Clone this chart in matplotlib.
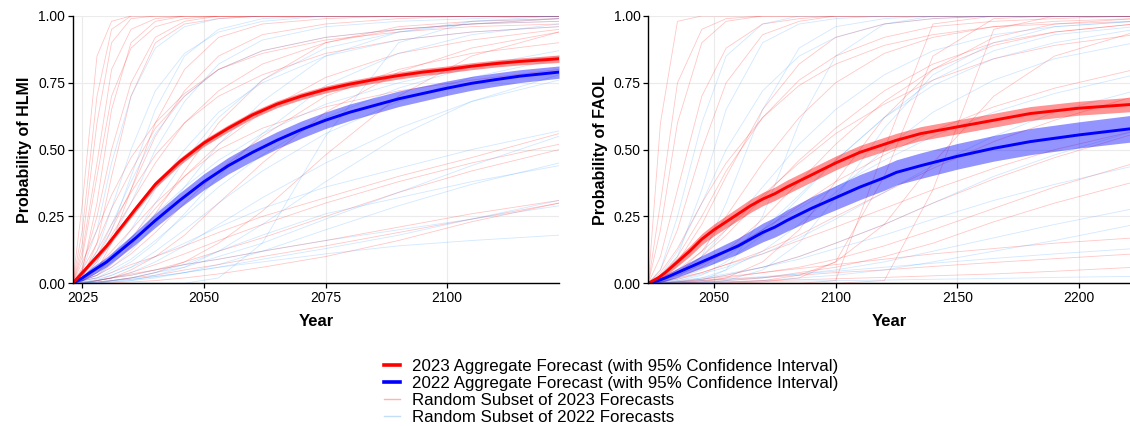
import matplotlib
matplotlib.use("Agg")
import matplotlib.pyplot as plt
from matplotlib.lines import Line2D

plt.rcParams['font.family'] = ['Liberation Sans', 'DejaVu Sans']

# ---- HLMI panel data ----
hlmi_years = [2023, 2025, 2028, 2031, 2035, 2040, 2046, 2053, 2062, 2075, 2090, 2105, 2123]

hlmi_agg_years = [2023, 2025, 2027, 2030, 2033, 2036, 2040, 2045, 2050, 2055, 2060, 2065,
                  2070, 2075, 2080, 2085, 2090, 2095, 2100, 2105, 2110, 2115, 2123]
hlmi_2023 = [0.0, 0.04, 0.08, 0.14, 0.21, 0.28, 0.37, 0.455, 0.525, 0.58, 0.63, 0.67,
             0.70, 0.725, 0.745, 0.762, 0.777, 0.79, 0.80, 0.812, 0.822, 0.83, 0.84]
hlmi_2023_lo = [0.0, 0.032, 0.071, 0.13, 0.199, 0.268, 0.357, 0.442, 0.512, 0.567, 0.617, 0.657,
                0.687, 0.712, 0.732, 0.749, 0.764, 0.777, 0.787, 0.799, 0.809, 0.817, 0.826]
hlmi_2023_hi = [0.0, 0.048, 0.089, 0.15, 0.221, 0.292, 0.383, 0.468, 0.538, 0.593, 0.643, 0.683,
                0.713, 0.738, 0.758, 0.775, 0.79, 0.803, 0.813, 0.825, 0.835, 0.843, 0.854]
hlmi_2022 = [0.0, 0.02, 0.045, 0.08, 0.125, 0.17, 0.235, 0.31, 0.38, 0.44, 0.49, 0.535,
             0.575, 0.61, 0.64, 0.665, 0.69, 0.71, 0.73, 0.748, 0.762, 0.775, 0.79]
hlmi_2022_lo = [0.0, 0.01, 0.03, 0.062, 0.104, 0.147, 0.209, 0.282, 0.35, 0.409, 0.458, 0.503,
                0.543, 0.579, 0.609, 0.635, 0.661, 0.682, 0.703, 0.722, 0.737, 0.751, 0.767]
hlmi_2022_hi = [0.0, 0.03, 0.06, 0.098, 0.146, 0.193, 0.261, 0.338, 0.41, 0.471, 0.522, 0.567,
                0.607, 0.641, 0.671, 0.695, 0.719, 0.738, 0.757, 0.774, 0.787, 0.799, 0.813]

hlmi_sub_2023 = [
    [0, .30, .85, .98, 1, 1, 1, 1, 1, 1, 1, 1, 1],
    [0, .15, .60, .90, .99, 1, 1, 1, 1, 1, 1, 1, 1],
    [0, .05, .30, .65, .90, .98, 1, 1, 1, 1, 1, 1, 1],
    [0, .02, .15, .40, .70, .90, .97, .99, 1, 1, 1, 1, 1],
    [0, .01, .05, .15, .35, .60, .80, .92, .97, .99, 1, 1, 1],
    [0, .02, .08, .18, .30, .45, .60, .72, .82, .90, .95, .97, .99],
    [0, .01, .04, .09, .17, .28, .40, .52, .64, .77, .86, .91, .95],
    [0, 0, .01, .02, .04, .07, .11, .16, .22, .30, .38, .45, .52],
    [0, .005, .01, .02, .035, .05, .07, .09, .12, .16, .21, .26, .31],
    [0, 0, 0, .002, .005, .01, .02, .035, .06, .10, .16, .23, .30],
    [0, .10, .40, .70, .88, .96, .99, 1, 1, 1, 1, 1, 1],
    [0, .03, .10, .20, .35, .55, .72, .85, .93, .97, .99, 1, 1],
    [0, .01, .03, .06, .11, .19, .30, .42, .55, .70, .80, .86, .90],
    [0, .04, .12, .22, .34, .48, .60, .70, .78, .86, .91, .94, .96],
    [0, 0, .01, .02, .05, .10, .18, .30, .45, .64, .79, .88, .94],
    [0, .02, .06, .12, .20, .30, .40, .50, .58, .66, .72, .76, .80],
    [0, .01, .02, .04, .07, .10, .14, .19, .25, .32, .40, .47, .56],
    [0, 0, 0, .01, .02, .04, .08, .15, .27, .48, .70, .85, .94],
    [0, .20, .70, .95, 1, 1, 1, 1, 1, 1, 1, 1, 1],
    [0, .06, .25, .50, .75, .92, .98, 1, 1, 1, 1, 1, 1],
    [0, .01, .03, .07, .14, .26, .42, .60, .76, .90, .96, .98, .99],
    [0, .003, .01, .02, .03, .05, .08, .12, .17, .25, .34, .42, .50],
    [0, .05, .15, .28, .42, .58, .70, .80, .87, .92, .95, .97, .98],
    [0, 0, .005, .01, .02, .03, .05, .07, .10, .14, .19, .24, .30],
    [0, .08, .20, .33, .47, .60, .71, .80, .86, .91, .94, .96, .97],
    [0, .12, .45, .80, .95, .99, 1, 1, 1, 1, 1, 1, 1],
]

hlmi_sub_2022 = [
    [0, .02, .08, .20, .40, .65, .85, .95, .99, 1, 1, 1, 1],
    [0, .01, .03, .06, .12, .22, .36, .52, .68, .85, .94, .98, .99],
    [0, 0, .01, .02, .04, .08, .14, .22, .32, .45, .58, .68, .76],
    [0, 0, .005, .01, .02, .04, .06, .10, .15, .24, .34, .44, .55],
    [0, .005, .01, .02, .03, .05, .07, .09, .12, .16, .20, .24, .29],
    [0, 0, 0, 0, 0, 0, 0, .02, .15, .55, .90, .98, 1],
    [0, .01, .04, .10, .20, .35, .50, .64, .75, .85, .91, .94, .96],
    [0, .03, .10, .22, .38, .56, .70, .80, .87, .92, .95, .97, .98],
    [0, 0, .01, .03, .06, .12, .20, .30, .42, .56, .68, .77, .84],
    [0, .002, .005, .01, .015, .025, .04, .06, .08, .11, .14, .16, .18],
    [0, .01, .02, .05, .09, .16, .25, .36, .48, .62, .73, .81, .87],
    [0, .05, .20, .45, .70, .88, .96, .99, 1, 1, 1, 1, 1],
    [0, 0, .002, .005, .01, .02, .04, .07, .12, .20, .29, .37, .45],
    [0, .01, .03, .08, .16, .30, .46, .62, .76, .88, .94, .97, .99],
    [0, .02, .05, .10, .17, .26, .36, .46, .56, .67, .75, .81, .85],
    [0, 0, 0, .005, .01, .03, .06, .12, .22, .38, .55, .68, .78],
    [0, .005, .015, .03, .06, .10, .15, .21, .28, .36, .43, .50, .57],
    [0, .03, .12, .28, .50, .72, .86, .94, .98, 1, 1, 1, 1],
    [0, 0, .005, .01, .02, .04, .07, .12, .18, .26, .32, .38, .44],
    [0, .01, .02, .04, .08, .15, .26, .40, .56, .74, .86, .93, .97],
    [0, 0, .003, .008, .015, .025, .04, .06, .09, .13, .18, .24, .31],
    [0, .02, .07, .16, .30, .50, .68, .82, .91, .96, .98, .99, 1],
]

# ---- FAOL panel data ----
faol_years = [2023, 2028, 2035, 2045, 2055, 2070, 2085, 2100, 2120, 2140, 2165, 2190, 2223]

faol_agg_years = [2023, 2027, 2030, 2035, 2040, 2045, 2050, 2055, 2060, 2065, 2070, 2075,
                  2080, 2090, 2100, 2110, 2120, 2125, 2135, 2150, 2165, 2180, 2200, 2223]
faol_2023 = [0.0, 0.02, 0.04, 0.08, 0.12, 0.165, 0.20, 0.23, 0.26, 0.29, 0.315, 0.335,
             0.36, 0.405, 0.45, 0.49, 0.52, 0.535, 0.56, 0.585, 0.61, 0.635, 0.655, 0.67]
faol_2023_lo = [0.0, 0.012, 0.028, 0.064, 0.101, 0.144, 0.178, 0.207, 0.236, 0.265, 0.29, 0.31,
                0.334, 0.379, 0.424, 0.464, 0.494, 0.509, 0.534, 0.559, 0.584, 0.609, 0.629, 0.643]
faol_2023_hi = [0.0, 0.028, 0.052, 0.096, 0.139, 0.186, 0.222, 0.253, 0.284, 0.315, 0.34, 0.36,
                0.386, 0.431, 0.476, 0.516, 0.546, 0.561, 0.586, 0.611, 0.636, 0.661, 0.681, 0.697]
faol_2022 = [0.0, 0.01, 0.02, 0.04, 0.06, 0.08, 0.10, 0.12, 0.14, 0.165, 0.19, 0.21,
             0.235, 0.28, 0.32, 0.36, 0.395, 0.415, 0.44, 0.475, 0.505, 0.53, 0.555, 0.58]
faol_2022_lo = [0.0, 0.002, 0.008, 0.024, 0.04, 0.057, 0.074, 0.092, 0.11, 0.133, 0.155, 0.173,
                0.195, 0.237, 0.275, 0.313, 0.348, 0.368, 0.392, 0.427, 0.457, 0.481, 0.506, 0.53]
faol_2022_hi = [0.0, 0.018, 0.032, 0.056, 0.08, 0.103, 0.126, 0.148, 0.17, 0.197, 0.225, 0.247,
                0.275, 0.323, 0.365, 0.407, 0.442, 0.462, 0.488, 0.523, 0.553, 0.579, 0.604, 0.63]

faol_sub_2023 = [
    [0, .60, .98, 1, 1, 1, 1, 1, 1, 1, 1, 1, 1],
    [0, .20, .60, .90, .98, 1, 1, 1, 1, 1, 1, 1, 1],
    [0, .05, .20, .50, .75, .93, .98, 1, 1, 1, 1, 1, 1],
    [0, .02, .08, .22, .40, .65, .82, .92, .97, .99, 1, 1, 1],
    [0, .01, .04, .10, .18, .32, .46, .58, .72, .82, .90, .94, .97],
    [0, .005, .015, .04, .07, .12, .18, .25, .34, .43, .53, .61, .70],
    [0, 0, .005, .01, .02, .04, .06, .09, .14, .20, .28, .36, .45],
    [0, 0, 0, 0, 0, 0, 0, 0, .01, .35, .95, 1, 1],
    [0, 0, 0, 0, 0, 0, 0, .01, .50, .97, 1, 1, 1],
    [0, .003, .008, .015, .025, .04, .055, .07, .09, .11, .13, .15, .17],
    [0, 0, .002, .004, .006, .01, .013, .017, .022, .028, .035, .045, .06],
    [0, .10, .35, .70, .88, .97, .99, 1, 1, 1, 1, 1, 1],
    [0, .03, .10, .25, .42, .62, .76, .85, .92, .96, .98, .99, 1],
    [0, .02, .05, .12, .20, .33, .45, .56, .67, .76, .84, .89, .93],
    [0, .01, .03, .07, .12, .20, .29, .38, .48, .57, .66, .73, .80],
    [0, 0, 0, .005, .02, .08, .20, .38, .62, .80, .92, .97, .99],
    [0, 0, .005, .015, .03, .06, .10, .15, .22, .30, .39, .47, .56],
    [0, .005, .02, .06, .12, .24, .38, .52, .68, .80, .89, .94, .97],
    [0, 0, .002, .005, .01, .02, .04, .06, .10, .15, .23, .30, .38],
    [0, .04, .13, .30, .45, .62, .74, .82, .89, .93, .96, .97, .98],
    [0, .30, .75, .95, .99, 1, 1, 1, 1, 1, 1, 1, 1],
    [0, 0, 0, 0, .002, .01, .03, .08, .22, .45, .70, .85, .94],
    [0, .008, .02, .04, .07, .11, .16, .21, .28, .35, .43, .50, .57],
    [0, 0, 0, 0, 0, .005, .02, .08, .40, .85, .99, 1, 1],
    [0, .002, .005, .01, .015, .022, .03, .04, .05, .063, .078, .092, .11],
    [0, .01, .04, .12, .25, .45, .62, .75, .86, .92, .96, .98, .99],
]

faol_sub_2022 = [
    [0, .02, .10, .35, .65, .90, .97, .99, 1, 1, 1, 1, 1],
    [0, 0, .02, .10, .30, .65, .88, .96, .99, 1, 1, 1, 1],
    [0, .005, .02, .05, .10, .20, .33, .46, .62, .74, .84, .90, .95],
    [0, 0, .005, .015, .03, .06, .10, .15, .22, .30, .40, .48, .57],
    [0, .002, .005, .01, .016, .025, .035, .045, .06, .075, .093, .11, .13],
    [0, 0, 0, .01, .05, .25, .60, .85, .97, 1, 1, 1, 1],
    [0, .01, .04, .10, .20, .36, .52, .65, .78, .87, .93, .96, .98],
    [0, 0, .002, .005, .01, .02, .035, .05, .08, .12, .17, .22, .28],
    [0, .005, .015, .035, .06, .11, .17, .24, .34, .44, .55, .64, .72],
    [0, .03, .12, .30, .50, .72, .85, .92, .97, .99, 1, 1, 1],
    [0, 0, 0, .002, .005, .01, .02, .03, .05, .08, .12, .16, .22],
    [0, .001, .002, .003, .004, .006, .008, .01, .012, .015, .018, .022, .026],
    [0, 0, .01, .03, .08, .18, .32, .46, .62, .76, .87, .93, .96],
    [0, .01, .03, .07, .12, .20, .28, .36, .46, .55, .64, .71, .78],
    [0, 0, 0, 0, .01, .05, .15, .32, .58, .78, .90, .96, .98],
    [0, .005, .01, .02, .035, .06, .09, .13, .18, .24, .31, .37, .44],
    [0, .05, .25, .60, .85, .97, 1, 1, 1, 1, 1, 1, 1],
    [0, 0, .005, .02, .05, .12, .22, .34, .50, .64, .76, .84, .90],
]

RED = '#FF0000'
BLUE = '#0000FF'
SUB_RED = '#FF0000'
SUB_BLUE = '#1E90FF'


def draw_panel(ax, years, sub23, sub22, agg_years, a23, lo23, hi23, a22, lo22, hi22,
               xlim, xticks, ylabel):
    for v in [0, 0.25, 0.5, 0.75, 1.0]:
        ax.axhline(v, color='#EBEBEB', lw=0.8, zorder=0)
    for t in xticks:
        ax.axvline(t, color='#EBEBEB', lw=0.8, zorder=0)
    for s in sub23:
        ax.plot(years, s, color=SUB_RED, alpha=0.22, lw=0.6, zorder=1)
    for s in sub22:
        ax.plot(years, s, color=SUB_BLUE, alpha=0.2, lw=0.6, zorder=1)
    ax.fill_between(agg_years, lo22, hi22, color=BLUE, alpha=0.42, lw=0, zorder=2)
    ax.fill_between(agg_years, lo23, hi23, color=RED, alpha=0.42, lw=0, zorder=2)
    ax.plot(agg_years, a22, color=BLUE, lw=2.1, zorder=3)
    ax.plot(agg_years, a23, color=RED, lw=2.1, zorder=3)
    ax.set_xlim(*xlim)
    ax.set_ylim(0, 1)
    ax.set_xticks(xticks)
    ax.set_yticks([0, 0.25, 0.5, 0.75, 1.0])
    ax.set_yticklabels(['0.00', '0.25', '0.50', '0.75', '1.00'])
    for side in ['top', 'right']:
        ax.spines[side].set_visible(False)
    for side in ['left', 'bottom']:
        ax.spines[side].set_linewidth(1.0)
        ax.spines[side].set_color('black')
        ax.spines[side].set_zorder(5)
    ax.tick_params(direction='out', length=3.5, width=0.9, colors='black',
                   labelsize=10, pad=2)
    ax.set_xlabel('Year', fontsize=12, fontweight='bold', labelpad=6.5)
    ax.set_ylabel(ylabel, fontsize=11.5, fontweight='bold', labelpad=4)


fig = plt.figure(figsize=(11.3, 4.26), dpi=100)
ax1 = fig.add_axes([0.0643, 0.335, 0.4304, 0.6275])
ax2 = fig.add_axes([0.5737, 0.335, 0.4263, 0.6275])

draw_panel(ax1, hlmi_years, hlmi_sub_2023, hlmi_sub_2022, hlmi_agg_years,
           hlmi_2023, hlmi_2023_lo, hlmi_2023_hi, hlmi_2022, hlmi_2022_lo, hlmi_2022_hi,
           (2023, 2123), [2025, 2050, 2075, 2100], 'Probability of HLMI')
draw_panel(ax2, faol_years, faol_sub_2023, faol_sub_2022, faol_agg_years,
           faol_2023, faol_2023_lo, faol_2023_hi, faol_2022, faol_2022_lo, faol_2022_hi,
           (2023, 2221), [2050, 2100, 2150, 2200], 'Probability of FAOL')

handles = [
    Line2D([], [], color=RED, lw=2.6),
    Line2D([], [], color=BLUE, lw=2.6),
    Line2D([], [], color='#FFB4B4', lw=1.0),
    Line2D([], [], color='#C4DEF8', lw=1.0),
]
labels = [
    '2023 Aggregate Forecast (with 95% Confidence Interval)',
    '2022 Aggregate Forecast (with 95% Confidence Interval)',
    'Random Subset of 2023 Forecasts',
    'Random Subset of 2022 Forecasts',
]
fig.legend(handles, labels, loc='center', bbox_to_anchor=(0.541, 0.080),
           frameon=False, fontsize=12.2, handlelength=0.95, handletextpad=0.7,
           labelspacing=0.12, borderaxespad=0)

fig.savefig('out.png', dpi=100)
